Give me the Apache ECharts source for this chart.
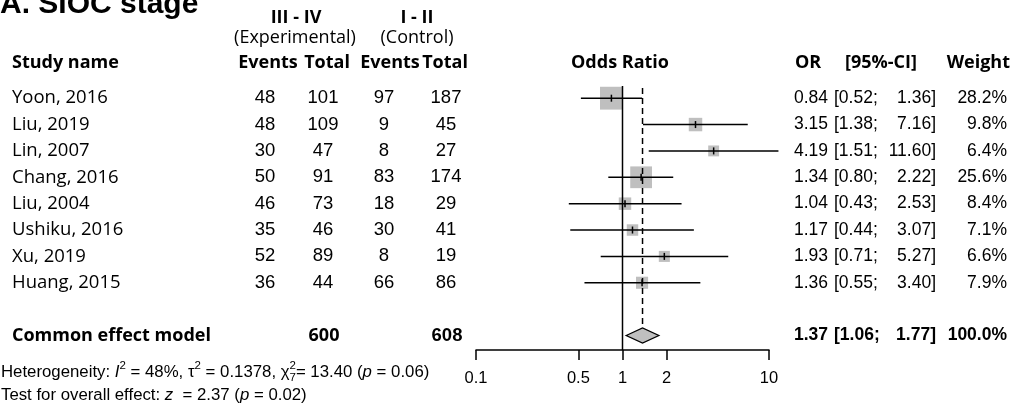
<!DOCTYPE html>
<html>
<head>
<meta charset="utf-8">
<script src="https://cdn.jsdelivr.net/npm/echarts@6/dist/echarts.min.js"></script>
<style>
  html, body { margin: 0; padding: 0; background: #fff; }
  #chart { width: 1014px; height: 404px; }
</style>
</head>
<body>
<div id="chart"></div>
<script>
// data
const studyNames = ['Yoon, 2016', 'Liu, 2019', 'Lin, 2007', 'Chang, 2016', 'Liu, 2004', 'Ushiku, 2016', 'Xu, 2019', 'Huang, 2015']
const expEvents = [48, 48, 30, 50, 46, 35, 52, 36]
const expTotal = [101, 109, 47, 91, 73, 46, 89, 44]
const ctrlEvents = [97, 9, 8, 83, 18, 30, 8, 66]
const ctrlTotal = [187, 45, 27, 174, 29, 41, 19, 86]
const oddsRatio = [0.84, 3.15, 4.19, 1.34, 1.04, 1.17, 1.93, 1.36]
const ciLower = [0.52, 1.38, 1.51, 0.80, 0.43, 0.44, 0.71, 0.55]
const ciUpper = [1.36, 7.16, 11.60, 2.22, 2.53, 3.07, 5.27, 3.40]
const weights = [28.2, 9.8, 6.4, 25.6, 8.4, 7.1, 6.6, 7.9]
const pooledEst = [1.37, 1.06, 1.77] // OR, lower, upper
const pooledTotals = [600, 608]
const pooledWeight = 100.0
const xTicks = [0.1, 0.5, 1, 2, 10]

const POOLED_ROW = 9
const NUM_FONT = '"Liberation Sans", Arial, sans-serif'
const TXT_FONT = '"Open Sans", sans-serif'
const GREY = '#bfbfbf'
const ROW_SIZE = 18.5
const RIGHT_SIZE = 17.5

const chart = echarts.init(document.getElementById('chart'))

function txt(x, y, text, align, opts) {
  return {
    type: 'text',
    style: Object.assign({
      x: x, y: y, text: String(text), align: align, verticalAlign: 'middle',
      fill: '#000', fontSize: ROW_SIZE, fontFamily: NUM_FONT, fontWeight: 'normal',
    }, opts || {}),
  }
}

const studyData = studyNames.map((n, i) => [i, oddsRatio[i], ciLower[i], ciUpper[i], weights[i]])
const tableData = studyNames.map((n, i) => [i, 1])

function renderStudy(params, api) {
  const row = api.value(0)
  const c = api.coord([api.value(1), row])
  const lo = api.coord([api.value(2), row])
  const hi = api.coord([api.value(3), row])
  const size = 4.3 * Math.sqrt(api.value(4))
  return {
    type: 'group',
    children: [
      { type: 'rect', shape: { x: c[0] - size / 2, y: c[1] - size / 2, width: size, height: size }, style: { fill: GREY } },
      { type: 'line', shape: { x1: lo[0], y1: lo[1], x2: hi[0], y2: hi[1] }, style: { stroke: '#000', lineWidth: 1.5 } },
      { type: 'line', shape: { x1: c[0], y1: c[1] - 3.5, x2: c[0], y2: c[1] + 3.5 }, style: { stroke: '#000', lineWidth: 1.5 } },
    ],
  }
}

function renderTable(params, api) {
  const i = params.dataIndex
  const y = api.coord([1, api.value(0)])[1]
  const r = { fontSize: RIGHT_SIZE }
  return {
    type: 'group',
    children: [
      txt(12, y, studyNames[i], 'left', { fontFamily: TXT_FONT }),
      txt(265, y, expEvents[i], 'center'),
      txt(323, y, expTotal[i], 'center'),
      txt(384, y, ctrlEvents[i], 'center'),
      txt(446, y, ctrlTotal[i], 'center'),
      txt(828, y, oddsRatio[i].toFixed(2), 'right', r),
      txt(834, y, '[' + ciLower[i].toFixed(2) + ';', 'left', r),
      txt(936, y, ciUpper[i].toFixed(2) + ']', 'right', r),
      txt(1007, y, weights[i].toFixed(1) + '%', 'right', r),
    ],
  }
}

function renderPooled(params, api) {
  const row = api.value(0)
  const c = api.coord([pooledEst[0], row])
  const lo = api.coord([pooledEst[1], row])
  const hi = api.coord([pooledEst[2], row])
  const y = c[1]
  const h = 7.5
  const bold = { fontWeight: 'bold', fontSize: RIGHT_SIZE }
  return {
    type: 'group',
    children: [
      { type: 'polygon', shape: { points: [[lo[0], y], [c[0], y - h], [hi[0], y], [c[0], y + h]] }, style: { fill: GREY, stroke: '#000', lineWidth: 1.3 } },
      txt(12, y, 'Common effect model', 'left', { fontFamily: TXT_FONT, fontWeight: 'bold', fontSize: 18 }),
      txt(324, y, pooledTotals[0], 'center', { fontFamily: TXT_FONT, fontWeight: 'bold', fontSize: 18 }),
      txt(447, y, pooledTotals[1], 'center', { fontWeight: 'bold' }),
      txt(828, y, pooledEst[0].toFixed(2), 'right', bold),
      txt(834, y, '[' + pooledEst[1].toFixed(2) + ';', 'left', bold),
      txt(936, y, pooledEst[2].toFixed(2) + ']', 'right', bold),
      txt(1007, y, pooledWeight.toFixed(1) + '%', 'right', bold),
    ],
  }
}

const NOTE = 16.8
const SMALL = 11.5
const hetRich = {
  n: { fontSize: NOTE, fontFamily: NUM_FONT, fill: '#000', lineHeight: 24 },
  it: { fontSize: NOTE, fontFamily: NUM_FONT, fontStyle: 'italic', fill: '#000', lineHeight: 24 },
  sup: { fontSize: SMALL, fontFamily: NUM_FONT, fill: '#000', lineHeight: 13, verticalAlign: 'top' },
  sub: { fontSize: SMALL, fontFamily: NUM_FONT, fill: '#000', lineHeight: 13, verticalAlign: 'bottom' },
  h: { fontSize: NOTE, fontFamily: NUM_FONT, fill: 'rgba(0,0,0,0)', lineHeight: 24 },
  hit: { fontSize: NOTE, fontFamily: NUM_FONT, fontStyle: 'italic', fill: 'rgba(0,0,0,0)', lineHeight: 24 },
  hsup: { fontSize: SMALL, fontFamily: NUM_FONT, fill: 'rgba(0,0,0,0)', lineHeight: 13, verticalAlign: 'top' },
}

function header(x, y, text, align, weight) {
  return {
    type: 'text', x: x, y: y,
    style: { text: text, align: align, verticalAlign: 'middle', fill: '#000', fontSize: 18, fontFamily: TXT_FONT, fontWeight: weight || 'bold' },
  }
}

const option = {
  animation: false,
  backgroundColor: '#fff',
  grid: { left: 476, width: 293, top: 85, height: 265 },
  xAxis: {
    type: 'log',
    logBase: 10,
    min: 0.1,
    max: 10,
    axisLine: { show: true, onZero: false, lineStyle: { color: '#000', width: 1.5 } },
    axisTick: { show: true, customValues: xTicks, length: 10, lineStyle: { color: '#000', width: 1.5 } },
    axisLabel: {
      customValues: xTicks,
      color: '#000',
      fontSize: 16.5,
      fontFamily: NUM_FONT,
      margin: 20,
      formatter: (v) => String(+Number(v).toPrecision(3)),
    },
    splitLine: { show: false },
  },
  yAxis: { type: 'value', inverse: true, min: -0.5, max: 9.55, show: false },
  graphic: [
    { type: 'text', x: 0, y: 5, style: { text: 'A. SIOC stage', align: 'left', verticalAlign: 'middle', fill: '#000', fontSize: 30, fontWeight: 'bold', fontFamily: NUM_FONT } },
    header(296, 18, 'III - IV', 'center'),
    header(295, 38, '(Experimental)', 'center', 'normal'),
    header(417, 18, 'I - II', 'center'),
    header(417, 38, '(Control)', 'center', 'normal'),
    header(12, 63, 'Study name', 'left'),
    header(268, 63, 'Events', 'center'),
    header(327, 63, 'Total', 'center'),
    header(390, 63, 'Events', 'center'),
    header(445, 63, 'Total', 'center'),
    header(620, 63, 'Odds Ratio', 'center'),
    header(808, 63, 'OR', 'center'),
    header(881, 63, '[95%-CI]', 'center'),
    header(1010, 63, 'Weight', 'right'),
    {
      type: 'text', x: 1, y: 372,
      style: { text: '{n|Heterogeneity: }{it|I}{sup|2}{n| = 48%, τ}{sup|2}{n| = 0.1378, χ}{sub|7}{n|= 13.40 (}{it|p}{n| = 0.06)}', rich: hetRich, align: 'left', verticalAlign: 'middle' },
    },
    {
      type: 'text', x: 1, y: 372,
      style: { text: '{h|Heterogeneity: }{hit|I}{hsup|2}{h| = 48%, τ}{hsup|2}{h| = 0.1378, χ}{sup|2}', rich: hetRich, align: 'left', verticalAlign: 'middle' },
    },
    {
      type: 'text', x: 1, y: 395,
      style: { text: '{n|Test for overall effect: }{it|z}{n|  = 2.37 (}{it|p}{n| = 0.02)}', rich: hetRich, align: 'left', verticalAlign: 'middle' },
    },
  ],
  series: [
    {
      type: 'custom',
      name: 'studies',
      renderItem: renderStudy,
      encode: { x: [1, 2, 3], y: 0 },
      data: studyData,
      clip: false,
      z: 2,
    },
    {
      type: 'line',
      name: 'no effect',
      data: [[1, -0.46], [1, 9.55]],
      symbol: 'none',
      lineStyle: { color: '#000', width: 1.5 },
      z: 3,
    },
    {
      type: 'line',
      name: 'pooled estimate',
      data: [[pooledEst[0], -0.39], [pooledEst[0], 8.7]],
      symbol: 'none',
      lineStyle: { color: '#000', width: 1.5, type: [6, 4] },
      z: 3,
    },
    {
      type: 'custom',
      name: 'pooled',
      renderItem: renderPooled,
      encode: { x: 1, y: 0 },
      data: [[POOLED_ROW, pooledEst[0]]],
      clip: false,
      z: 4,
    },
    {
      type: 'custom',
      name: 'table',
      renderItem: renderTable,
      encode: { x: 1, y: 0 },
      data: tableData,
      clip: false,
      z: 4,
    },
  ],
}

chart.setOption(option)
</script>
</body>
</html>
